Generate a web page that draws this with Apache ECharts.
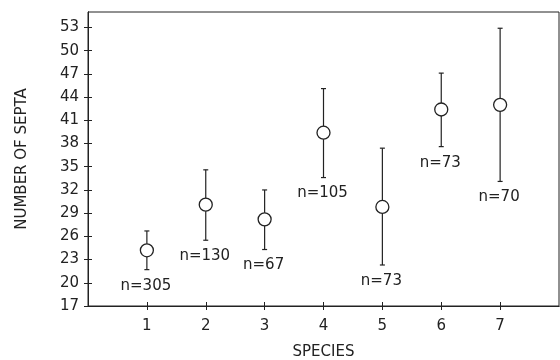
<!DOCTYPE html>
<html>
<head>
<meta charset="utf-8">
<script src="https://cdn.jsdelivr.net/npm/echarts@6/dist/echarts.min.js"></script>
<style>html,body{margin:0;padding:0;background:#fff}#c{width:560px;height:360px}</style>
</head>
<body>
<div id="c"></div>
<script>
const species = [1, 2, 3, 4, 5, 6, 7];
const means = [24.2, 30.1, 28.2, 39.4, 29.8, 42.4, 43.0];
const lows = [21.7, 25.5, 24.3, 33.6, 22.3, 37.6, 33.1];
const highs = [26.7, 34.6, 32.0, 45.1, 37.4, 47.1, 52.9];
const nLabels = ['n=305', 'n=130', 'n=67', 'n=105', 'n=73', 'n=73', 'n=70'];
const yTicks = [17, 20, 23, 26, 29, 32, 35, 38, 41, 44, 47, 50, 53];
const xTicks = [1, 2, 3, 4, 5, 6, 7];

const FONT = 'DejaVu Sans';
const INK = '#222';
const chart = echarts.init(document.getElementById('c'), null, {renderer: 'canvas'});

const barData = species.map((s, i) => [s, lows[i], highs[i], nLabels[i]]);
const ptData = species.map((s, i) => [s, means[i]]);

const tickStyle = {color: INK, width: 1};

chart.setOption({
  animation: false,
  backgroundColor: '#fff',
  grid: {left: 88, right: 1, top: 12, bottom: 54, show: true, borderColor: INK, borderWidth: 1, backgroundColor: 'transparent', outerBoundsMode: 'none', containLabel: false},
  xAxis: [
    {
      type: 'value', position: 'bottom', min: 0, max: 8,
      splitLine: {show: false},
      name: 'SPECIES', nameLocation: 'middle', nameGap: 39,
      nameTextStyle: {fontFamily: FONT, fontSize: 15, color: INK},
      axisLine: {show: true, onZero: false, lineStyle: {color: INK, width: 1}},
      axisTick: {show: true, inside: false, length: 4, customValues: xTicks, lineStyle: tickStyle},
      axisLabel: {show: true, customValues: xTicks, margin: 13, fontFamily: FONT, fontSize: 15, color: INK}
    },
    {
      type: 'value', position: 'bottom', min: 0, max: 8,
      splitLine: {show: false},
      axisLine: {show: true, onZero: false, lineStyle: {color: INK, width: 1}},
      axisTick: {show: true, inside: true, length: 4, customValues: xTicks, lineStyle: tickStyle},
      axisLabel: {show: false, customValues: xTicks}
    }
  ],
  yAxis: [
    {
      type: 'value', position: 'left', min: 17, max: 55,
      splitLine: {show: false},
      name: 'NUMBER OF SEPTA', nameLocation: 'middle', nameGap: 58,
      nameTextStyle: {fontFamily: FONT, fontSize: 15, color: INK},
      axisLine: {show: true, onZero: false, lineStyle: {color: INK, width: 1}},
      axisTick: {show: true, inside: false, length: 4, customValues: yTicks, lineStyle: tickStyle},
      axisLabel: {show: true, customValues: yTicks, margin: 9, fontFamily: FONT, fontSize: 15, color: INK}
    },
    {
      type: 'value', position: 'left', min: 17, max: 55,
      splitLine: {show: false},
      axisLine: {show: true, onZero: false, lineStyle: {color: INK, width: 1}},
      axisTick: {show: true, inside: true, length: 4, customValues: yTicks, lineStyle: tickStyle},
      axisLabel: {show: false, customValues: yTicks}
    }
  ],
  series: [
    {
      type: 'custom',
      xAxisIndex: 0, yAxisIndex: 0,
      data: barData,
      z: 2,
      renderItem: function (params, api) {
        const x = api.value(0);
        const lo = api.coord([x, api.value(1)]);
        const hi = api.coord([x, api.value(2)]);
        const cap = 2.5;
        const ls = {stroke: INK, lineWidth: 1.2};
        return {
          type: 'group',
          children: [
            {type: 'line', shape: {x1: lo[0], y1: lo[1], x2: hi[0], y2: hi[1]}, style: ls},
            {type: 'line', shape: {x1: lo[0] - cap, y1: lo[1], x2: lo[0] + cap, y2: lo[1]}, style: ls},
            {type: 'line', shape: {x1: hi[0] - cap, y1: hi[1], x2: hi[0] + cap, y2: hi[1]}, style: ls},
            {type: 'text', style: {text: api.value(3), x: lo[0] - 1, y: lo[1] + 16, align: 'center', verticalAlign: 'middle', font: '15px "' + FONT + '"', fill: INK}}
          ]
        };
      },
      encode: {x: 0, y: [1, 2]}
    },
    {
      type: 'scatter',
      xAxisIndex: 0, yAxisIndex: 0,
      data: ptData,
      z: 3,
      symbol: 'circle',
      symbolSize: 13,
      itemStyle: {color: '#fff', borderColor: INK, borderWidth: 1.3, opacity: 1}
    }
  ]
});
</script>
</body>
</html>
